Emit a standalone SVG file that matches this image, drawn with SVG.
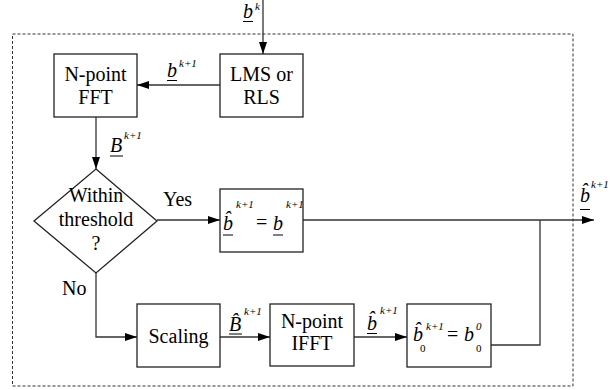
<svg xmlns="http://www.w3.org/2000/svg" width="612" height="390" viewBox="0 0 612 390">
  <defs>
    <marker id="arrow" viewBox="0 0 12 8" refX="12" refY="4" markerWidth="12" markerHeight="8" markerUnits="userSpaceOnUse" orient="auto">
      <path d="M0,0 L12,4 L0,8 Z" fill="#000"/>
    </marker>
    <style>
      .box { fill: #fff; stroke: #222; stroke-width: 1.3; }
      .edge { fill: none; stroke: #333; stroke-width: 1.3; }
      text { font-family: "Times New Roman", "Liberation Serif", Tinos, "Nimbus Roman", "Noto Serif", "DejaVu Serif", FreeSerif, serif; fill: #000; font-size: 20px; }
      .mi { font-style: italic; }
      .sup { font-style: italic; font-size: 11px; }
      .sub { font-size: 11px; }
      .ul { stroke: #000; stroke-width: 1; }
    </style>
  </defs>
  <rect width="612" height="390" fill="#fff"/>

  <!-- dotted frame around the processing block -->
  <rect x="12.5" y="34" width="560.5" height="352" fill="none" stroke="#333" stroke-width="1" stroke-dasharray="3,2"/>

  <!-- connectors -->
  <g id="connectors">
    <line class="edge" x1="263" y1="0" x2="263" y2="54" marker-end="url(#arrow)"/>
    <line class="edge" x1="220" y1="85" x2="137" y2="85" marker-end="url(#arrow)"/>
    <line class="edge" x1="96" y1="117" x2="96" y2="169" marker-end="url(#arrow)"/>
    <line class="edge" x1="157" y1="220" x2="220" y2="220" marker-end="url(#arrow)"/>
    <line class="edge" x1="303" y1="220" x2="594" y2="220" marker-end="url(#arrow)"/>
    <polyline class="edge" points="96,273 96,337 137,337" marker-end="url(#arrow)"/>
    <line class="edge" x1="220" y1="337" x2="270" y2="337" marker-end="url(#arrow)"/>
    <line class="edge" x1="354" y1="337" x2="407" y2="337" marker-end="url(#arrow)"/>
    <polyline class="edge" points="491,345 540,345 540,220"/>

    <!-- edge labels -->
    <g id="label-bk">
      <text x="243" y="18"><tspan class="mi">b</tspan><tspan class="sup" x="255" y="10">k</tspan></text>
      <line class="ul" x1="243" y1="21.5" x2="253" y2="21.5"/>
    </g>
    <g id="label-bk1">
      <text x="167" y="77"><tspan class="mi">b</tspan><tspan class="sup" x="179" y="67">k+1</tspan></text>
      <line class="ul" x1="167" y1="80.5" x2="177" y2="80.5"/>
    </g>
    <g id="label-Bk1">
      <text x="110" y="152"><tspan class="mi">B</tspan><tspan class="sup" x="124" y="139">k+1</tspan></text>
      <line class="ul" x1="110" y1="156" x2="123" y2="156"/>
    </g>
    <text x="163" y="206">Yes</text>
    <text x="62" y="295">No</text>
    <g id="label-Bhat">
      <text x="229" y="331"><tspan class="mi">B&#x302;</tspan><tspan class="sup" x="244" y="315">k+1</tspan></text>
      <line class="ul" x1="229" y1="334" x2="242" y2="334"/>
    </g>
    <g id="label-bhat">
      <text x="367" y="330"><tspan class="mi">b&#x302;</tspan><tspan class="sup" x="380" y="314">k+1</tspan></text>
      <line class="ul" x1="367" y1="333.5" x2="377" y2="333.5"/>
    </g>
    <g id="label-out">
      <text x="580" y="202"><tspan class="mi">b&#x302;</tspan><tspan class="sup" x="591" y="188">k+1</tspan></text>
      <line class="ul" x1="580" y1="209.5" x2="590" y2="209.5"/>
    </g>
  </g>

  <!-- N-point FFT -->
  <g id="fft">
    <rect class="box" x="54" y="54" width="83" height="63"/>
    <text x="95.5" y="81" text-anchor="middle">N-point</text>
    <text x="95.5" y="104" text-anchor="middle">FFT</text>
  </g>

  <!-- LMS or RLS -->
  <g id="lms">
    <rect class="box" x="220" y="54" width="83" height="63"/>
    <text x="261.5" y="81" text-anchor="middle">LMS or</text>
    <text x="261.5" y="104" text-anchor="middle">RLS</text>
  </g>

  <!-- threshold decision -->
  <g id="decision">
    <polygon class="box" points="96,169 157,221 96,273 34,221"/>
    <text x="96" y="202" text-anchor="middle">Within</text>
    <text x="96" y="226" text-anchor="middle">threshold</text>
    <text x="96" y="250" text-anchor="middle">?</text>
  </g>

  <!-- accept update -->
  <g id="accept">
    <rect class="box" x="220" y="189" width="83" height="63"/>
    <text x="223" y="230"><tspan class="mi">b&#x302;</tspan><tspan class="sup" x="236" y="208">k+1</tspan><tspan x="256" y="229">=</tspan><tspan class="mi" x="273" y="230">b</tspan><tspan class="sup" x="286" y="208">k+1</tspan></text>
    <line class="ul" x1="223" y1="235" x2="233" y2="235"/>
    <line class="ul" x1="273" y1="235" x2="283" y2="235"/>
  </g>

  <!-- Scaling -->
  <g id="scaling">
    <rect class="box" x="137" y="304" width="83" height="63"/>
    <text x="178.5" y="343" text-anchor="middle">Scaling</text>
  </g>

  <!-- N-point IFFT -->
  <g id="ifft">
    <rect class="box" x="270" y="304" width="84" height="62"/>
    <text x="312" y="328" text-anchor="middle">N-point</text>
    <text x="312" y="350" text-anchor="middle">IFFT</text>
  </g>

  <!-- reset initial taps -->
  <g id="reset">
    <rect class="box" x="407" y="304" width="84" height="63"/>
    <text x="413" y="341"><tspan class="mi">b&#x302;</tspan><tspan class="sup" x="426" y="330">k+1</tspan><tspan class="sub" x="420" y="352">0</tspan><tspan x="447" y="341">=</tspan><tspan class="mi" x="464" y="341">b</tspan><tspan class="sup" x="476" y="330">0</tspan><tspan class="sub" x="476" y="352">0</tspan></text>
  </g>
</svg>
